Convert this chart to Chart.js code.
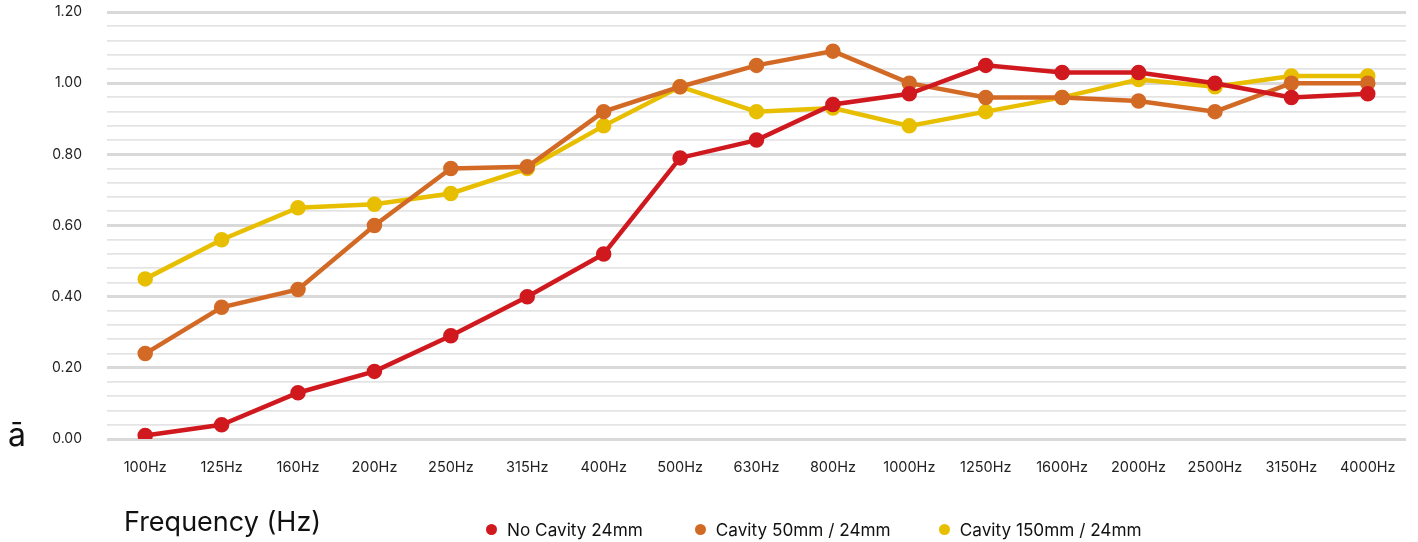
<!DOCTYPE html>
<html>
<head>
<meta charset="utf-8">
<script src="https://cdn.jsdelivr.net/npm/chart.js@4/dist/chart.umd.min.js"></script>
<style>
  body { margin: 0; background: #fff; font-family: Inter, "Noto Sans", sans-serif; }
  #wrap { position: relative; width: 1418px; height: 542px; }
  #abar { position: absolute; left: 8px; top: 415px; font-size: 32px; color: #111; }
  #xtitle { position: absolute; left: 124px; top: 505px; font-size: 27px; color: #111; }
  #legend { position: absolute; left: 486px; top: 519px; display: flex; font-size: 17.2px; color: #111; }
  #legend span.item { display: flex; align-items: center; }
  #legend span.dot { width: 11px; height: 11px; border-radius: 50%; display: inline-block; margin-right: 10px; }
</style>
</head>
<body>
<div id="wrap">
  <canvas id="chart" width="1418" height="542"></canvas>
  <div id="abar">ā</div>
  <div id="xtitle">Frequency (Hz)</div>
  <div id="legend"></div>
</div>
<script>
let frequencies = ["100Hz", "125Hz", "160Hz", "200Hz", "250Hz", "315Hz", "400Hz", "500Hz", "630Hz", "800Hz",
    "1000Hz", "1250Hz", "1600Hz", "2000Hz", "2500Hz", "3150Hz", "4000Hz"];

let noCavity = [0.01, 0.04, 0.13, 0.19, 0.29, 0.40, 0.52, 0.79, 0.84, 0.94, 0.97, 1.05, 1.03, 1.03, 1.00, 0.96, 0.97];
let cavity50 = [0.24, 0.37, 0.42, 0.60, 0.76, 0.765, 0.92, 0.99, 1.05, 1.09, 1.00, 0.96, 0.96, 0.95, 0.92, 1.00, 1.00];
let cavity150 = [0.45, 0.56, 0.65, 0.66, 0.69, 0.76, 0.88, 0.99, 0.92, 0.93, 0.88, 0.92, 0.96, 1.01, 0.99, 1.02, 1.02];

let seriesNames = ["No Cavity 24mm", "Cavity 50mm / 24mm", "Cavity 150mm / 24mm"];
let seriesColors = ["#d0191e", "#d26a26", "#e8bf00"];
let legendGaps = [0, 52, 48];

function makeDataset(i, values) {
    return {
        label: seriesNames[i],
        data: values,
        borderColor: seriesColors[i],
        backgroundColor: seriesColors[i],
        borderWidth: 4.5,
        pointRadius: 5.5,
        pointHoverRadius: 5.5,
        tension: 0
    };
}

let isMajor = v => Math.abs(v / 0.2 - Math.round(v / 0.2)) < 1e-6;

new Chart(document.getElementById("chart").getContext("2d"), {
    type: "line",
    data: {
        labels: frequencies,
        datasets: [makeDataset(0, noCavity), makeDataset(1, cavity50), makeDataset(2, cavity150)]
    },
    options: {
        responsive: false,
        animation: false,
        layout: { padding: { top: 12, right: 12, bottom: 69, left: 0 } },
        plugins: { legend: { display: false }, tooltip: { enabled: false } },
        scales: {
            x: {
                offset: true,
                afterFit: s => { s.height = 34; s.paddingLeft = 0; s.paddingRight = 0; },
                grid: { display: false },
                border: { display: false },
                ticks: { padding: 12, color: "#222", font: { family: "Inter", size: 14.5 }, maxRotation: 0, autoSkip: false }
            },
            y: {
                min: 0,
                max: 1.2,
                afterFit: s => { s.width = 107; s.paddingTop = 0; s.paddingBottom = 0; },
                border: { display: false },
                grid: {
                    drawTicks: false,
                    color: ctx => isMajor(ctx.tick.value) ? "#d9d9d9" : "#e4e4e4",
                    lineWidth: ctx => isMajor(ctx.tick.value) ? 3 : 1.8
                },
                ticks: {
                    stepSize: 0.04,
                    autoSkip: false,
                    padding: 25,
                    color: "#222",
                    font: { family: "Inter", size: 14 },
                    callback: v => isMajor(v) ? v.toFixed(2) : ""
                }
            }
        }
    }
});

let legend = document.getElementById("legend");
seriesNames.forEach((name, i) => {
    let item = document.createElement("span");
    item.className = "item";
    item.style.marginLeft = legendGaps[i] + "px";
    item.innerHTML = `<span class="dot" style="background:${seriesColors[i]}"></span>${name}`;
    legend.appendChild(item);
});
</script>
</body>
</html>
